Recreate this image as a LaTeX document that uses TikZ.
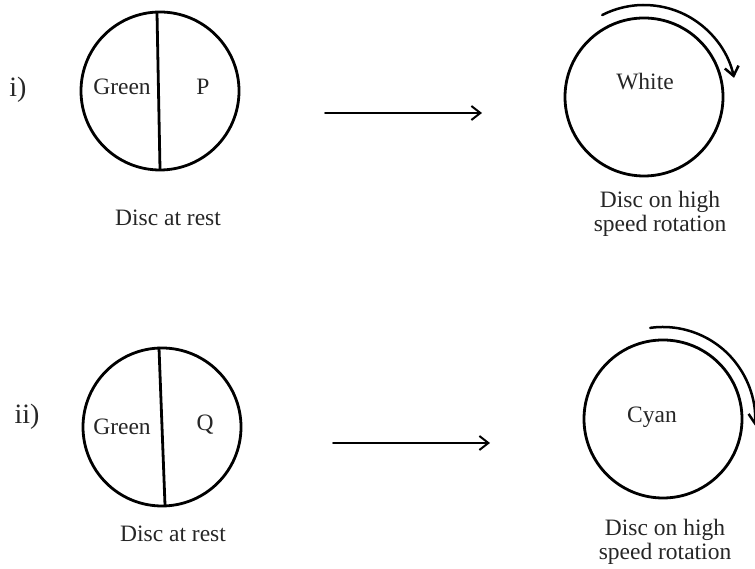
\documentclass[tikz,border=0pt]{standalone}
\usepackage{fontspec}
\setmainfont{Liberation Serif}
\usetikzlibrary{arrows.meta}
\begin{document}
\begin{tikzpicture}[x=1pt, y=1pt, font=\fontsize{23.5}{24}\selectfont, line join=round, line cap=round, >={Straight Barb[length=9pt,width=14pt]}]
		\useasboundingbox (0,0) rectangle (755,569);
		\def\r{79}
		\def\R{92}
		\tikzset{disc/.style={line width=2.8pt}, txt/.style={text=black!85, inner sep=0pt}, caption/.style={txt, align=center}, num/.style={txt, font=\fontsize{28}{30}\selectfont}}
		\path (160,478) coordinate (A)
		(644,472) coordinate (B)
		(162,142) coordinate (C)
		(663,150) coordinate (D)
		(157,556) coordinate (A1)
		(160,400) coordinate (A2)
		(159,221) coordinate (C1)
		(165,64) coordinate (C2)
		(325,456) coordinate (a1)
		(482,456) coordinate (a2)
		(333,126) coordinate (c1)
		(490,126) coordinate (c2)
		;
		% discs
		\foreach \d in {A,B,C,D}
		\draw[disc] (\d) circle (\r);
		\draw[disc] (A1)--(A2) (C1)--(C2);
		% spinning
		\draw[line width=2.5pt,->] ([shift={(117:\R)}]B) arc (117:12:\R);
		\draw[line width=2.5pt,->] ([shift={(98:\R)}]D) arc (98:-4:\R);
		\draw[line width=2pt,->] (a1)--(a2);
		\draw[line width=2pt,->] (c1)--(c2);
		% labels
		\node[num] (i) at (18,479) {i)};
		\node[num] (ii) at (27,152) {ii)};
		\node[txt] (gA) at (122,482) {Green};
		\node[txt] (P) at (203,482) {P};
		\node[txt] (gC) at (122,142) {Green};
		\node[txt] (Q) at (205,144) {Q};
		\node[txt] (W) at (645,487) {White};
		\node[txt] (Cy) at (652,152) {Cyan};
		\node[txt] (restA) at (168,351) {Disc at rest};
		\node[txt] (restC) at (173,35) {Disc at rest};
		\node[caption] (spinB) at (660,355) {Disc on high\\speed rotation};
		\node[caption] (spinD) at (665,27) {Disc on high\\speed rotation};
		\end{tikzpicture}
\end{document}
